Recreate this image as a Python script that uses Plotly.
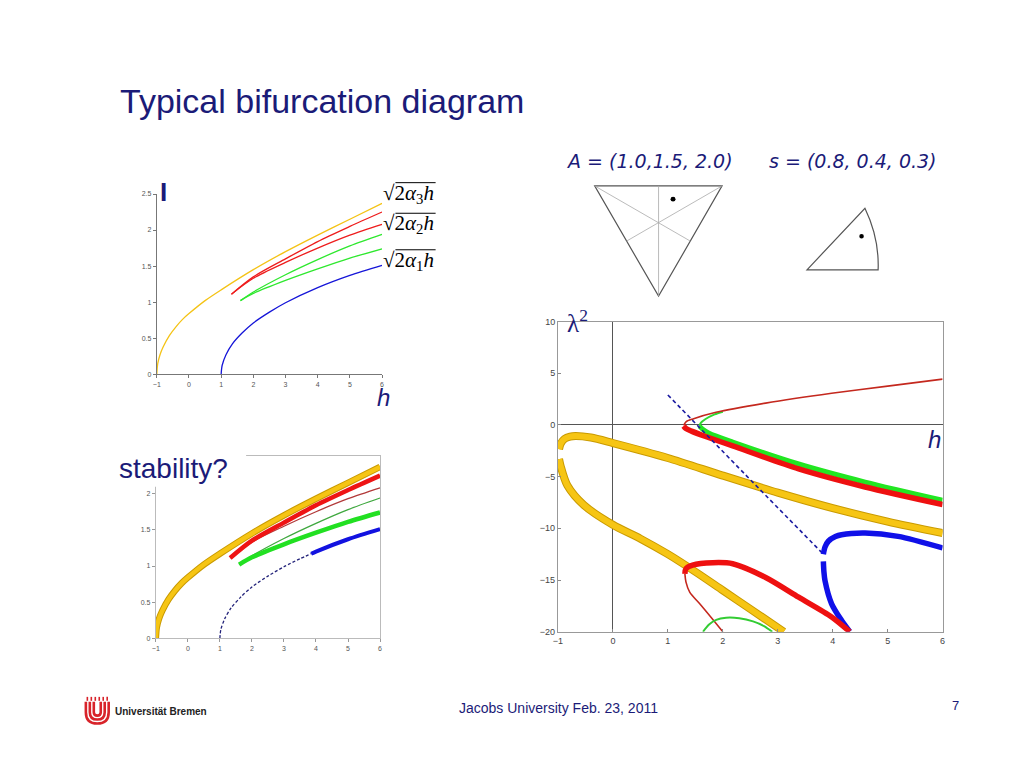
import plotly.graph_objects as go

W, H = 1024, 768
NAVY = "#1b1b78"

# ---------------- data: top-left plot (I vs h) ----------------
yel_h = [-1, -0.97, -0.9, -0.8, -0.6, -0.4, -0.2, 0, 0.5, 1, 2, 3, 4, 5, 6]
yel_I = [0, 0.15, 0.27, 0.38, 0.54, 0.66, 0.76, 0.84, 1.02, 1.17, 1.45, 1.70, 1.93, 2.15, 2.37]
blu_h = [1, 1.03, 1.15, 1.35, 1.65, 2, 2.5, 3, 4, 5, 6]
blu_I = [0, 0.12, 0.27, 0.42, 0.57, 0.71, 0.86, 0.99, 1.2, 1.37, 1.51]
red_up_h = [1.32, 2, 3, 4, 5, 6]
red_up_I = [1.11, 1.35, 1.60, 1.84, 2.05, 2.25]
red_lo_h = [1.32, 2, 3, 4, 5, 6]
red_lo_I = [1.11, 1.33, 1.55, 1.75, 1.93, 2.08]
grn_up_h = [1.6, 2, 3, 4, 5, 6]
grn_up_I = [1.02, 1.14, 1.38, 1.59, 1.78, 1.94]
grn_lo_h = [1.6, 2, 3, 4, 5, 6]
grn_lo_I = [1.02, 1.12, 1.30, 1.46, 1.61, 1.74]
# blue branch split into unstable (dashed) and stable (thick) parts
blu_uns_h = [1, 1.03, 1.15, 1.35, 1.65, 2, 2.5, 3, 3.5, 3.85]
blu_uns_I = [0, 0.12, 0.27, 0.42, 0.57, 0.71, 0.86, 0.99, 1.1, 1.17]
blu_st_h = [3.85, 4, 5, 6]
blu_st_I = [1.17, 1.2, 1.37, 1.51]

top_xticks = [-1, 0, 1, 2, 3, 4, 5, 6]
top_yticks = [0, 0.5, 1, 1.5, 2, 2.5]
bot_yticks = [0, 0.5, 1, 1.5, 2]

# ---------------- data: right plot (lambda^2 vs h) ----------------
r_thin_up_h = [1.287, 1.33, 1.456, 1.877, 2.78, 3.98, 5.0, 6.0]
r_thin_up_l = [-0.05, 0.3, 0.58, 1.22, 2.11, 3.06, 3.75, 4.43]
r_thick_dn_h = [1.287, 1.33, 1.43, 1.70, 2.18, 3.38, 4.59, 6.0]
r_thick_dn_l = [-0.1, -0.35, -0.6, -1.14, -2.03, -4.25, -6.0, -7.7]
g_thin_up_h = [1.576, 1.60, 1.68, 1.85, 2.0]
g_thin_up_l = [-0.1, 0.2, 0.55, 1.02, 1.28]
g_thick_dn_h = [1.576, 1.64, 1.75, 2.18, 3.38, 4.59, 6.0]
g_thick_dn_l = [-0.12, -0.45, -0.8, -1.65, -3.78, -5.53, -7.28]
y_up_h = [-0.98, -0.95, -0.88, -0.78, -0.68, -0.4, 0, 1, 2, 3, 4, 5, 6]
y_up_l = [-2.35, -1.8, -1.35, -1.13, -1.07, -1.22, -1.75, -3.2, -4.9, -6.55, -8.05, -9.35, -10.46]
y_lo_h = [-0.98, -0.95, -0.83, -0.53, 0, 0.5, 1.0, 1.5, 2.0, 2.5, 3.11]
y_lo_l = [-3.3, -4.0, -5.84, -7.75, -9.66, -11.0, -12.5, -14.2, -16.0, -17.8, -20]
b_up_h = [3.83, 3.86, 3.92, 4.05, 4.16, 4.59, 5.19, 6.0]
b_up_l = [-12.5, -11.8, -11.25, -10.8, -10.62, -10.46, -10.78, -11.9]
b_lo_h = [3.83, 3.84, 3.86, 3.98, 4.16, 4.31]
b_lo_l = [-13.2, -14.2, -15.07, -17.3, -18.9, -20]
b_dash_h = [1.0, 2.4, 3.83]
b_dash_l = [2.9, -4.75, -12.5]
r_loop_h = [1.31, 1.33, 1.45, 1.82, 2.18, 2.78, 3.38, 3.98, 4.31]
r_loop_l = [-14.4, -13.9, -13.55, -13.32, -13.42, -14.75, -16.66, -18.57, -20]
r_thin_lo_h = [1.31, 1.33, 1.40, 1.58, 1.80, 2.0]
r_thin_lo_l = [-14.4, -15.2, -16.2, -17.3, -18.7, -20]
g_thin_lo_h = [1.64, 1.75, 1.88, 2.06, 2.3, 2.55, 2.75, 2.9]
g_thin_lo_l = [-20, -19.3, -18.85, -18.65, -18.7, -19.0, -19.45, -20]

r_xticks = [-1, 0, 1, 2, 3, 4, 5, 6]
r_yticks = [-20, -15, -10, -5, 0, 5, 10]


def px(x):
    return x / W


def py(y):
    return 1 - y / H


fig = go.Figure()


def add(xs, ys, ax, color, width, dash=None):
    fig.add_trace(go.Scatter(
        x=xs, y=ys, xaxis="x" + ax, yaxis="y" + ax, mode="lines",
        line=dict(color=color, width=width, dash=dash, shape="spline", smoothing=0.8),
        hoverinfo="skip", showlegend=False))


# top-left
add(yel_h, yel_I, "", "#f4c316", 1.3)
add(blu_h, blu_I, "", "#1515d8", 1.3)
add(red_up_h, red_up_I, "", "#ee1c1c", 1.3)
add(red_lo_h, red_lo_I, "", "#ee1c1c", 1.3)
add(grn_up_h, grn_up_I, "", "#2ee82e", 1.3)
add(grn_lo_h, grn_lo_I, "", "#2ee82e", 1.3)

# bottom-left (stability)
add(yel_h, yel_I, "2", "#c99a00", 6.5)
add(yel_h, yel_I, "2", "#f6c514", 4.5)
add(red_lo_h, red_lo_I, "2", "#b23a3a", 1.3)
add(grn_up_h, grn_up_I, "2", "#3fa83f", 1.3)
add(red_up_h, red_up_I, "2", "#ee1414", 4.5)
add(grn_lo_h, grn_lo_I, "2", "#22e022", 4.5)
add(blu_uns_h, blu_uns_I, "2", "#23237a", 1.3, "3px,2px")
add(blu_st_h, blu_st_I, "2", "#1212e0", 4)

# right plot
add(y_up_h, y_up_l, "3", "#c99a00", 8)
add(y_up_h, y_up_l, "3", "#f6c514", 6)
add(y_lo_h, y_lo_l, "3", "#c99a00", 8)
add(y_lo_h, y_lo_l, "3", "#f6c514", 6)
add(g_thin_up_h, g_thin_up_l, "3", "#30d830", 2)
add(r_thin_up_h, r_thin_up_l, "3", "#c4281e", 1.6)
add(g_thick_dn_h, g_thick_dn_l, "3", "#22e622", 5)
add(r_thick_dn_h, r_thick_dn_l, "3", "#ee1010", 5.5)
add(b_dash_h, b_dash_l, "3", "#1a1aa0", 1.6, "4px,3px")
add(b_up_h, b_up_l, "3", "#1010e8", 5.5)
add(b_lo_h, b_lo_l, "3", "#1010e8", 5.5)
add(r_thin_lo_h, r_thin_lo_l, "3", "#c4281e", 1.6)
add(g_thin_lo_h, g_thin_lo_l, "3", "#33cc33", 2)
add(r_loop_h, r_loop_l, "3", "#ee1010", 5.5)

tickfont_small = dict(family="Liberation Sans", size=7, color="#555555")
tickfont_r = dict(family="Liberation Sans", size=9, color="#444444")

fig.update_layout(
    width=W, height=H, autosize=False,
    margin=dict(l=0, r=0, t=0, b=0),
    paper_bgcolor="white", plot_bgcolor="white",
    xaxis=dict(domain=[px(153), px(380)], range=[-1, 6], anchor="y",
               tickvals=top_xticks, ticks="outside", ticklen=3, tickcolor="#777",
               showline=True, linecolor="#777", linewidth=1, showgrid=False, zeroline=False,
               tickfont=tickfont_small),
    yaxis=dict(domain=[py(374), py(191.5)], range=[0, 2.5], anchor="x",
               tickvals=top_yticks, ticktext=["0", "0.5", "1", "1.5", "2", "2.5"],
               ticks="outside", ticklen=3, tickcolor="#777",
               showline=True, linecolor="#777", linewidth=1, showgrid=False, zeroline=False,
               tickfont=tickfont_small),
    xaxis2=dict(domain=[px(152), px(378)], range=[-1, 6], anchor="y2",
                tickvals=top_xticks, ticks="outside", ticklen=3, tickcolor="#999",
                showline=True, mirror=True, linecolor="#bbb", linewidth=1,
                showgrid=False, zeroline=False, tickfont=tickfont_small),
    yaxis2=dict(domain=[py(641.7), py(457)], range=[0, 2.52], anchor="x2",
                tickvals=bot_yticks, ticktext=["0", "0.5", "1", "1.5", "2"],
                ticks="outside", ticklen=3, tickcolor="#999",
                showline=True, mirror=True, linecolor="#bbb", linewidth=1,
                showgrid=False, zeroline=False, tickfont=tickfont_small),
    xaxis3=dict(domain=[px(557.3), px(945)], range=[-1, 6], anchor="y3",
                tickvals=r_xticks, ticks="inside", ticklen=3, tickcolor="#888",
                showline=True, mirror=True, linecolor="#999", linewidth=1,
                showgrid=False, zeroline=True, zerolinecolor="#555", zerolinewidth=1,
                tickfont=tickfont_r),
    yaxis3=dict(domain=[py(635), py(320.7)], range=[-20, 10], anchor="x3",
                tickvals=r_yticks, ticks="inside", ticklen=3, tickcolor="#888",
                showline=True, mirror=True, linecolor="#999", linewidth=1,
                showgrid=False, zeroline=True, zerolinecolor="#555", zerolinewidth=1,
                tickfont=tickfont_r),
)


def pth(pts, close=False):
    s = "M " + " L ".join(f"{px(x):.5f},{py(y):.5f}" for x, y in pts)
    return s + (" Z" if close else "")


shapes = []
# triangle (A) with medians
shapes.append(dict(type="path", xref="paper", yref="paper",
                   path=pth([(594.3, 183.3), (722.7, 183.3), (658.7, 295)], True),
                   line=dict(color="#555", width=1.2)))
for a, b in [((658.7, 183.3), (658.7, 295)), ((594.3, 183.3), (690.7, 239.2)),
             ((722.7, 183.3), (626.5, 239.2))]:
    shapes.append(dict(type="line", xref="paper", yref="paper",
                       x0=px(a[0]), y0=py(a[1]), x1=px(b[0]), y1=py(b[1]),
                       line=dict(color="#aaaaaa", width=0.8)))
shapes.append(dict(type="circle", xref="paper", yref="paper",
                   x0=px(670.8), y0=py(194.2), x1=px(675.8), y1=py(199.2),
                   fillcolor="black", line=dict(color="black", width=0)))
# wedge (s)
wedge = (f"M {px(808.3):.5f},{py(268.3):.5f} L {px(866.7):.5f},{py(206):.5f} "
         f"Q {px(881.2):.5f},{py(236.2):.5f} {px(880):.5f},{py(268.3):.5f} Z")
shapes.append(dict(type="path", xref="paper", yref="paper", path=wedge,
                   line=dict(color="#555", width=1.2)))
shapes.append(dict(type="circle", xref="paper", yref="paper",
                   x0=px(861.0), y0=py(232.0), x1=px(865.6), y1=py(236.6),
                   fillcolor="black", line=dict(color="black", width=0)))
# white box under "stability?"
shapes.append(dict(type="rect", xref="paper", yref="paper", layer="above",
                   x0=px(110), x1=px(243), y0=py(450), y1=py(488),
                   fillcolor="white", line=dict(width=0)))
# overlines of the square-root labels
for yy in [191, 222, 259]:
    shapes.append(dict(type="line", xref="paper", yref="paper",
                       x0=px(393.5), x1=px(434), y0=py(yy - 11), y1=py(yy - 11),
                       line=dict(color="black", width=1)))
# logo (concentric U's)
for (l, r, b) in [(81.5, 104.5, 728), (85.5, 100.5, 724), (89.5, 96.5, 720)]:
    mid = (l + r) / 2
    p = (f"M {px(l):.5f},{py(706):.5f} L {px(l):.5f},{py(b - (r - l) / 2):.5f} "
         f"Q {px(l):.5f},{py(b):.5f} {px(mid):.5f},{py(b):.5f} "
         f"Q {px(r):.5f},{py(b):.5f} {px(r):.5f},{py(b - (r - l) / 2):.5f} "
         f"L {px(r):.5f},{py(706):.5f}")
    shapes.append(dict(type="path", xref="paper", yref="paper", path=p,
                       line=dict(color="#d8232a", width=2.6)))
for xv in [83, 87, 91, 95, 99, 103]:
    shapes.append(dict(type="line", xref="paper", yref="paper",
                       x0=px(xv), x1=px(xv), y0=py(701), y1=py(705),
                       line=dict(color="#d8232a", width=1.6)))
fig.update_layout(shapes=shapes)

ann = []


def text(x, y, s, size, color=NAVY, family="Liberation Sans", xanchor="center", **kw):
    ann.append(dict(x=px(x), y=py(y), xref="paper", yref="paper", text=s, showarrow=False,
                    xanchor=xanchor, yanchor="middle", borderpad=0,
                    font=dict(family=family, size=size, color=color, **kw)))


text(115, 97, "Typical bifurcation diagram", 34, xanchor="left")
text(114, 470, "stability?", 28, xanchor="left")
text(650, 158, "A = (1.0,1.5, 2.0)", 19, family="DejaVu Sans", style="italic")
text(855, 158, "s = (0.8, 0.4, 0.3)", 19, family="DejaVu Sans", style="italic")
text(160, 189, "<b>I</b>", 26)
text(381, 398, "h", 24, style="italic")
text(937, 440, "h", 24, style="italic")
text(577, 320, "λ<sup>2</sup>", 25, family="Liberation Serif")
for yy, k in [(191, "3"), (222, "2"), (259, "1")]:
    text(380, yy, '√2<i>α</i><sub>' + k + '</sub><i>h</i>', 21, color="black",
         family="Liberation Serif", xanchor="left")
text(558, 712, "Jacobs University Feb. 23, 2011", 14)
text(958, 710, "7", 13)
text(110, 716, "<b>Universität Bremen</b>", 10, color="#222222", xanchor="left")
fig.update_layout(annotations=ann)

fig.write_html("out.html", config={"displayModeBar": False},
               post_script="document.body.style.margin='0';")
